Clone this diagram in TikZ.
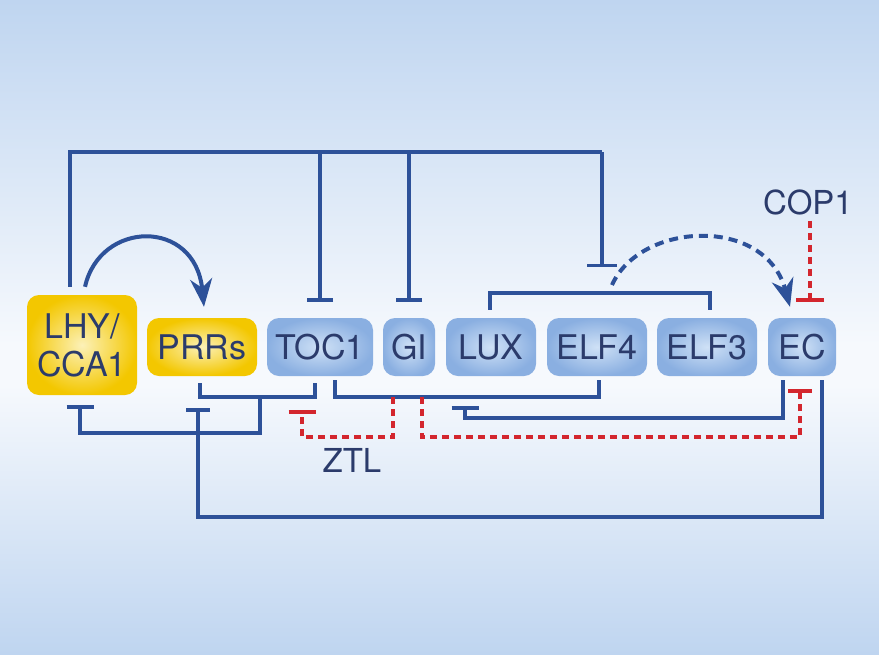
\documentclass[tikz,border=0pt]{standalone}
\usepackage{fontspec}
\setmainfont{TeX Gyre Heros}
\usetikzlibrary{arrows.meta,calc}
\definecolor{bgA}{HTML}{BFD5F0}
\definecolor{bgB}{HTML}{F6F9FD}
\definecolor{lineblue}{HTML}{2D5199}
\definecolor{linered}{HTML}{D3262E}
\definecolor{txt}{HTML}{2B3B6B}
\definecolor{bOut}{HTML}{8AAFE1}
\definecolor{bIn}{HTML}{CFE1F6}
\definecolor{yOut}{HTML}{F3C700}
\definecolor{yIn}{HTML}{FCF1B8}
\tikzset{
  gene/.style={rounded corners=12pt, inner sep=0pt, minimum height=58pt,
    text=txt, font=\fontsize{34pt}{38pt}\selectfont, align=center},
  bluegene/.style={gene, shade, inner color=bIn, outer color=bOut},
  yellowgene/.style={gene, shade, inner color=yIn, outer color=yOut},
  bl/.style={draw=lineblue, line width=3.5pt},
  rd/.style={draw=linered, line width=3.5pt, dash pattern=on 7pt off 5pt},
  inh/.style={-{Bar[width=#1, line width=3.5pt]}},
  inh/.default=26pt,
  act/.style={-{Stealth[length=28pt,width=22pt,inset=9pt]}},
  lbl/.style={text=txt, font=\fontsize{33pt}{36pt}\selectfont, inner sep=0pt}
}
\begin{document}
\begin{tikzpicture}[x=1pt,y=-1pt]
% background
\useasboundingbox (0,0) rectangle (879,654);
\shade[top color=bgA, bottom color=bgB] (0,0) rectangle (879,345);
\fill[bgB] (0,344) rectangle (879,386);
\shade[top color=bgB, bottom color=bgA] (0,385) rectangle (879,654);

% genes
\node[yellowgene, minimum width=110pt, minimum height=100pt] (lhy) at (82,345) {LHY/\\CCA1};
\node[yellowgene, minimum width=110pt] (prrs) at (202,347) {PRRs};
\node[bluegene, minimum width=106pt] (toc1) at (320,347) {TOC1};
\node[bluegene, minimum width=52pt] (gi) at (409,347) {GI};
\node[bluegene, minimum width=90pt] (lux) at (491,347) {LUX};
\node[bluegene, minimum width=100pt] (elf4) at (597,347) {ELF4};
\node[bluegene, minimum width=100pt] (elf3) at (707,347) {ELF3};
\node[bluegene, minimum width=68pt] (ec) at (802,347) {EC};

% labels
\node[lbl] (cop1) at (808,202) {COP1};
\node[lbl] (ztl) at (352,460) {ZTL};

% helper coordinates
\coordinate (topR) at (602,152);
\coordinate (ecTop) at ([yshift=16pt]ec.north);
\coordinate (brL) at (490,293);
\coordinate (brR) at (710,293);
\coordinate (brM) at (612,285);

% top feedback from LHY/CCA1
\draw[bl] ([xshift=-12pt,yshift=8pt]lhy.north) |- (topR);
\draw[bl, inh=30pt] (topR) -- (602,267);
\draw[bl, inh] (toc1.north |- topR) -- ([yshift=16pt]toc1.north);
\draw[bl, inh] (gi.north |- topR) -- ([yshift=16pt]gi.north);

% LUX-ELF4-ELF3 bracket
\draw[bl] ([xshift=-1pt,yshift=8pt]lux.north) -- (brL) -- (brR) -- ([xshift=3pt,yshift=8pt]elf3.north);

% dashed arc to EC
\draw[draw=lineblue, line width=4pt, dash pattern=on 9pt off 6pt, act]
  (brM) .. controls (640,222) and (765,215) .. ([xshift=-12pt,yshift=11pt]ec.north);

% LHY -> PRRs arc
\draw[draw=lineblue, line width=4pt, act]
  ([xshift=3pt,yshift=8pt]lhy.north) .. controls (100,220) and (195,218) .. ([xshift=2pt,yshift=11pt]prrs.north);

% COP1 -| EC
\draw[rd, inh=28pt] ([yshift=-6pt]cop1.south -| ecTop) ++(8,0) coordinate (c1) -- (c1 |- ecTop);

% PRRs/TOC1 bracket inhibiting LHY/CCA1
\draw[bl] ([xshift=-2pt,yshift=-7pt]prrs.south) |- (315,397) -- ([xshift=-5pt,yshift=-7pt]toc1.south);
\draw[bl, inh=27pt] (260,397) |- (80,433) -- ([xshift=-2pt,yshift=-10pt]lhy.south);

% TOC1-ELF4 bracket
\draw[bl] ([xshift=15pt,yshift=-4pt]toc1.south) |- (599,397) -- ([xshift=2pt,yshift=-4pt]elf4.south);

% ZTL red dashed
\draw[rd, inh=27pt] (393,397) |- (302,437) -- ([xshift=-18pt,yshift=-34pt]toc1.south);
\draw[rd, inh=24pt] (422,397) |- (800,437) -- ([xshift=-2pt,yshift=-13pt]ec.south);

% EC -| LUX
\draw[bl, inh=27pt] ([xshift=-19pt,yshift=-4pt]ec.south) |- (465,418) -- ([xshift=-26pt,yshift=-30pt]lux.south);

% EC -| PRRs
\draw[bl, inh=24pt] ([xshift=20pt,yshift=-4pt]ec.south) |- (198,517) -- ([xshift=-4pt,yshift=-32pt]prrs.south);
\end{tikzpicture}
\end{document}
